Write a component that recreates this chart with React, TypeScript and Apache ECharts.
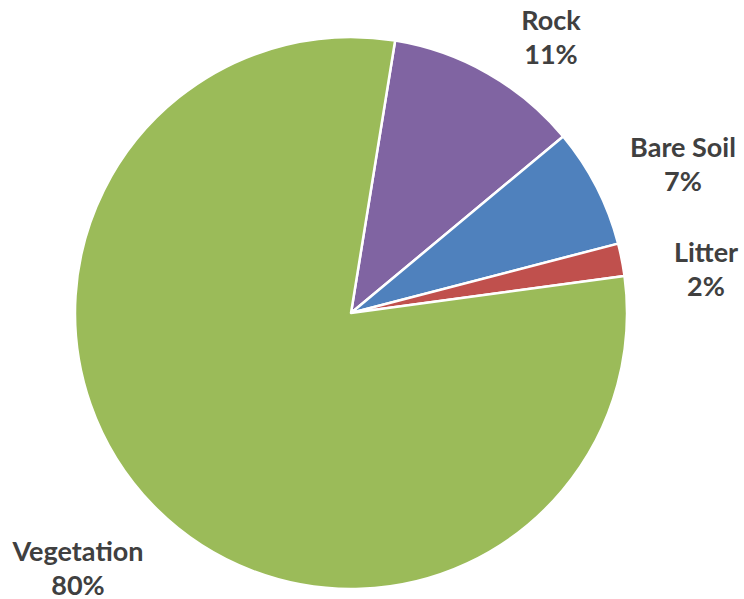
import React, { useEffect, useRef } from "react";
import * as echarts from "echarts";

const categories = ["Rock", "Bare Soil", "Litter", "Vegetation"];
const values = [11.4, 7.0, 1.9, 79.7];
const colors = ["#8064A2", "#4F81BD", "#C0504D", "#9BBB59"];
const labelPositions: [number, number][] = [
  [551, 36],
  [683, 163],
  [706, 268],
  [78, 567],
];

export default function App() {
  const ref = useRef<HTMLDivElement>(null);
  useEffect(() => {
    document.body.style.margin = "0";
    const chart = echarts.init(ref.current!, undefined, { renderer: "svg" });
    chart.setOption({
      animation: false,
      backgroundColor: "#ffffff",
      series: [
        {
          type: "pie",
          center: [351, 313],
          radius: [0, 276],
          startAngle: 80.8,
          clockwise: true,
          data: categories.map((c, i) => ({
            name: c,
            value: values[i],
            itemStyle: { color: colors[i] },
          })),
          itemStyle: { borderColor: "#ffffff", borderWidth: 2.5 },
          label: {
            show: true,
            position: "outside",
            overflow: "none",
            alignTo: "none",
            formatter: (p: any) => `${p.name}\n${Math.round(p.percent)}%`,
            fontFamily: "Lato",
            fontWeight: "bold",
            fontSize: 27,
            lineHeight: 34,
            color: "#404040",
          },
          labelLine: { show: false },
          labelLayout: (params: any) => {
            const pos = labelPositions[params.dataIndex];
            return { x: pos[0], y: pos[1], align: "center", verticalAlign: "middle", width: 200 };
          },
          emphasis: { disabled: true },
        },
      ],
    });
    return () => chart.dispose();
  }, []);
  return <div ref={ref} style={{ position: "absolute", left: 0, top: 0, width: 744, height: 599 }} />;
}
